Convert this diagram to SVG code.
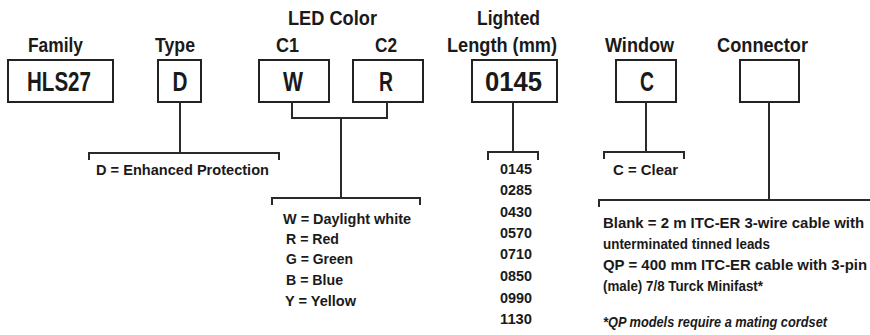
<svg xmlns="http://www.w3.org/2000/svg" width="870" height="335" viewBox="0 0 870 335">
<style>
text{font-family:"Liberation Sans Narrow","Arial Narrow","Liberation Sans",Arial,sans-serif;font-weight:bold;fill:#1a1a1a}
.h{font-size:21px}
.b{font-size:27px;text-anchor:middle}
.d{font-size:15.5px}
.f{font-size:14.5px;font-style:italic}
.box{fill:#fff;stroke:#222;stroke-width:2}
.ln{fill:none;stroke:#2a2a2a;stroke-width:2}
</style>
<rect width="870" height="335" fill="#fff"/>
<g id="headers">
<text class="h" x="28" y="52" textLength="55" lengthAdjust="spacingAndGlyphs">Family</text>
<text class="h" x="155" y="52" textLength="40" lengthAdjust="spacingAndGlyphs">Type</text>
<text class="h" x="288" y="25" textLength="89" lengthAdjust="spacingAndGlyphs">LED Color</text>
<text class="h" x="276" y="52" textLength="23" lengthAdjust="spacingAndGlyphs">C1</text>
<text class="h" x="375" y="52" textLength="22" lengthAdjust="spacingAndGlyphs">C2</text>
<text class="h" x="477" y="25" textLength="63" lengthAdjust="spacingAndGlyphs">Lighted</text>
<text class="h" x="447" y="52" textLength="110" lengthAdjust="spacingAndGlyphs">Length (mm)</text>
<text class="h" x="605" y="52" textLength="69" lengthAdjust="spacingAndGlyphs">Window</text>
<text class="h" x="717" y="52" textLength="91" lengthAdjust="spacingAndGlyphs">Connector</text>
</g>
<g id="family"><rect class="box" x="8" y="60" width="105" height="42"/><text class="b" x="59" y="91" textLength="64" lengthAdjust="spacingAndGlyphs">HLS27</text></g>
<g id="type"><rect class="box" x="158" y="60" width="43" height="42"/><text class="b" x="180" y="91" textLength="15" lengthAdjust="spacingAndGlyphs">D</text></g>
<g id="c1"><rect class="box" x="259" y="60" width="70" height="42"/><text class="b" x="293" y="91" textLength="20" lengthAdjust="spacingAndGlyphs">W</text></g>
<g id="c2"><rect class="box" x="353" y="60" width="70" height="42"/><text class="b" x="386" y="91" textLength="14" lengthAdjust="spacingAndGlyphs">R</text></g>
<g id="length"><rect class="box" x="472" y="60" width="85" height="42"/><text class="b" x="513.5" y="91" textLength="57" lengthAdjust="spacingAndGlyphs">0145</text></g>
<g id="window"><rect class="box" x="616" y="60" width="60" height="42"/><text class="b" x="647" y="91" textLength="14" lengthAdjust="spacingAndGlyphs">C</text></g>
<g id="connector"><rect class="box" x="740" y="60" width="59" height="42"/></g>
<g id="connectors">
<path class="ln" d="M180,102V153M89,160V153H279V160"/>
<path class="ln" d="M292,102V118H387V102M341,118V198M272,205V198H420V205"/>
<path class="ln" d="M513,102V152M488,160V152H538V160"/>
<path class="ln" d="M646,102V152M604,159V152H684V159"/>
<path class="ln" d="M769,102V200M599,207V200H870"/>
</g>
<g id="type-options">
<text class="d" x="96" y="175" textLength="173" lengthAdjust="spacingAndGlyphs">D = Enhanced Protection</text>
</g>
<g id="color-options">
<text class="d" x="283" y="224" textLength="128" lengthAdjust="spacingAndGlyphs">W = Daylight white</text>
<text class="d" x="286" y="244" textLength="53" lengthAdjust="spacingAndGlyphs">R = Red</text>
<text class="d" x="286" y="264" textLength="67" lengthAdjust="spacingAndGlyphs">G = Green</text>
<text class="d" x="286" y="285" textLength="57" lengthAdjust="spacingAndGlyphs">B = Blue</text>
<text class="d" x="285" y="306" textLength="71" lengthAdjust="spacingAndGlyphs">Y = Yellow</text>
</g>
<g id="length-options">
<text class="d" x="500" y="174" textLength="32" lengthAdjust="spacingAndGlyphs">0145</text>
<text class="d" x="500" y="195" textLength="32" lengthAdjust="spacingAndGlyphs">0285</text>
<text class="d" x="500" y="217" textLength="32" lengthAdjust="spacingAndGlyphs">0430</text>
<text class="d" x="500" y="238" textLength="32" lengthAdjust="spacingAndGlyphs">0570</text>
<text class="d" x="500" y="259" textLength="32" lengthAdjust="spacingAndGlyphs">0710</text>
<text class="d" x="500" y="281" textLength="32" lengthAdjust="spacingAndGlyphs">0850</text>
<text class="d" x="500" y="303" textLength="32" lengthAdjust="spacingAndGlyphs">0990</text>
<text class="d" x="500" y="324" textLength="32" lengthAdjust="spacingAndGlyphs">1130</text>
</g>
<g id="window-options">
<text class="d" x="613" y="175" textLength="65" lengthAdjust="spacingAndGlyphs">C = Clear</text>
</g>
<g id="connector-options">
<text class="d" transform="translate(603,228) scale(0.86,1)" textLength="303.5" lengthAdjust="spacingAndGlyphs">Blank = 2 m ITC-ER 3-wire cable with</text>
<text class="d" x="603" y="249" textLength="167" lengthAdjust="spacingAndGlyphs">unterminated tinned leads</text>
<text class="d" transform="translate(603,270) scale(0.86,1)" textLength="307" lengthAdjust="spacingAndGlyphs">QP = 400 mm ITC-ER cable with 3-pin</text>
<text class="d" x="603" y="291" textLength="160" lengthAdjust="spacingAndGlyphs">(male) 7/8 Turck Minifast*</text>
<text class="f" x="603" y="327" textLength="224" lengthAdjust="spacingAndGlyphs">*QP models require a mating cordset</text>
</g>
</svg>
